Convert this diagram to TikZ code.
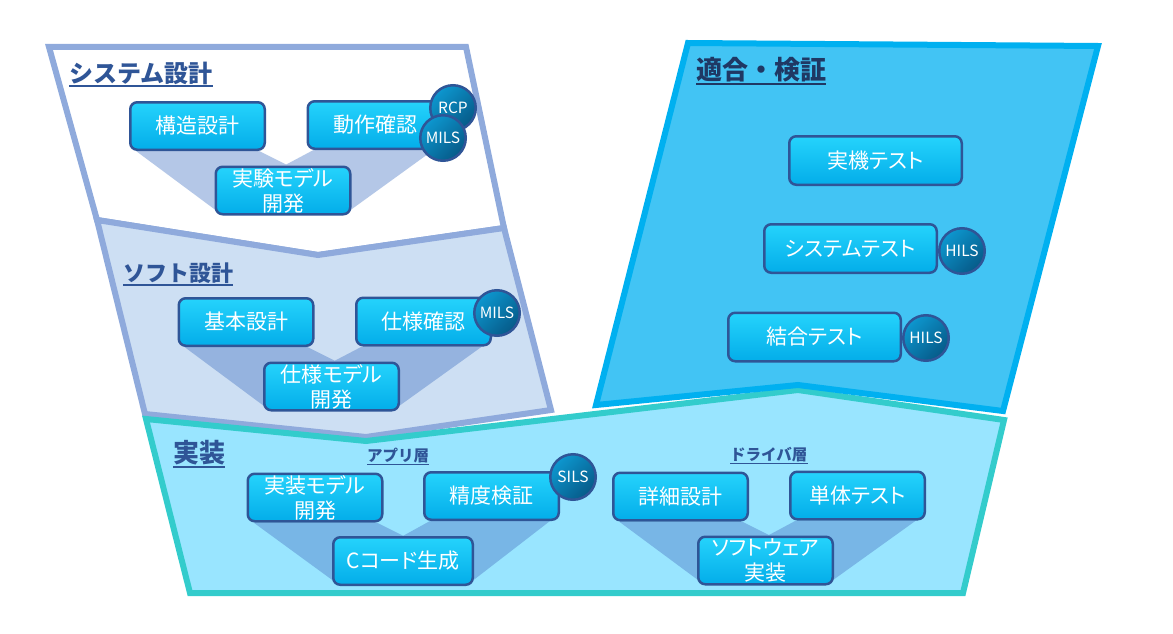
\documentclass[tikz,border=0pt]{standalone}
\usepackage{fontspec}
\usetikzlibrary{calc}
\newfontfamily\jp[RawFeature=+palt]{Noto Sans CJK JP}
\newfontfamily\jplab{Noto Sans CJK JP}
\definecolor{sysline}{HTML}{8FAADC}
\definecolor{softfill}{HTML}{CDDFF3}
\definecolor{sysshadow}{HTML}{B4C7E7}
\definecolor{softshadow}{HTML}{95B3DF}
\definecolor{implfill}{HTML}{99E5FF}
\definecolor{implline}{HTML}{33CCCC}
\definecolor{implshadow}{HTML}{78B6E6}
\definecolor{adfill}{HTML}{42C4F4}
\definecolor{adline}{HTML}{00B0F0}
\definecolor{boxtop}{HTML}{25D3FC}
\definecolor{boxbot}{HTML}{03ADE9}
\definecolor{boxline}{HTML}{2F5597}
\definecolor{circtop}{HTML}{0D97CF}
\definecolor{circbot}{HTML}{065A88}
\definecolor{labcol}{HTML}{2F5597}
\definecolor{labdark}{HTML}{1F3864}
\pgfdeclarelayer{back}
\pgfdeclarelayer{shade}
\pgfsetlayers{back,shade,main}
\newcommand{\shadowV}[4]{%
  \fill[#4] ($(#1.south west)+(7,0)$) -- ($(#1.south east)+(-7,0)$)
    -- ($(#1.south east)!0.5!(#2.south west)+(0,14)$)
    -- ($(#2.south west)+(7,0)$) -- ($(#2.south east)+(-10,0)$)
    -- ($(#3.south east)+(-3,-4)$) -- ($(#3.south west)+(3,-4)$) -- cycle;}
\begin{document}
\begin{tikzpicture}[x=1pt,y=-1pt,
  area/.style={line width=6pt, line join=miter},
  box/.style={draw=boxline, line width=2.5pt, rounded corners=7pt,
    top color=boxtop, bottom color=boxbot, text=white,
    font=\jp\fontsize{21}{25}\selectfont, align=center,
    minimum width=134.5pt, minimum height=47.5pt, inner sep=0pt},
  wbox/.style={box, minimum width=172.5pt, minimum height=48.5pt},
  badge/.style={circle, draw=boxline, line width=2.5pt, minimum size=45.5pt,
    inner sep=0pt, top color=circtop, bottom color=circbot, shading angle=45,
    text=white, font=\jp\fontsize{15.5}{15.5}\selectfont},
  lab/.style={text=labcol, inner sep=0pt, anchor=west},
  uline/.style={draw=labcol, line width=1.3pt},
]
\useasboundingbox (0,0) rectangle (1173,634);

\begin{pgfonlayer}{back}
% system design
\draw[area, draw=sysline, fill=white] (49,47) -- (466,47) -- (504,228) -- (318,255) -- (97,220) -- cycle;
% software design
\draw[area, draw=sysline, fill=softfill] (97,220) -- (318,255) -- (504,228) -- (551,410) -- (366,437) -- (145,414) -- cycle;
% implementation
\draw[area, draw=implline, fill=implfill] (146,419) -- (366,441) -- (798,390) -- (1004,420) -- (963,593) -- (190,593) -- cycle;
% adaptation / verification
\draw[area, draw=adline, fill=adfill] (688,43) -- (1098,46) -- (1003,411) -- (798,385) -- (596,405) -- cycle;
\end{pgfonlayer}

% section labels
\node[lab, font=\jplab\bfseries\fontsize{24}{24}\selectfont] (lsys) at (69,73) {システム設計};
\draw[uline] ([yshift=-1.5pt]lsys.south west) -- ([yshift=-1.5pt]lsys.south east);
\node[lab, font=\jplab\bfseries\fontsize{22}{22}\selectfont] (lsoft) at (123,273) {ソフト設計};
\draw[uline] ([yshift=-1.5pt]lsoft.south west) -- ([yshift=-1.5pt]lsoft.south east);
\node[lab, font=\jplab\bfseries\fontsize{26}{26}\selectfont] (limpl) at (173,453) {実装};
\draw[uline] ([yshift=-1.5pt]limpl.south west) -- ([yshift=-1.5pt]limpl.south east);
\node[lab, font=\jplab\bfseries\fontsize{15.5}{15.5}\selectfont] (lapp) at (367,456) {アプリ層};
\draw[uline] ([yshift=-1pt]lapp.south west) -- ([yshift=-1pt]lapp.south east);
\node[lab, font=\jplab\bfseries\fontsize{15.5}{15.5}\selectfont] (ldrv) at (730,455) {ドライバ層};
\draw[uline] ([yshift=-1pt]ldrv.south west) -- ([yshift=-1pt]ldrv.south east);
\node[lab, text=labdark, font=\jplab\bfseries\fontsize{26}{26}\selectfont] (lad) at (696,70) {適合・検証};
\draw[uline, draw=labdark] ([yshift=-1.5pt]lad.south west) -- ([yshift=-1.5pt]lad.south east);

% system design boxes
\node[box] (kozo) at (197.5,126) {構造設計};
\node[box] (dosa) at (375,125) {動作確認};
\node[badge] (rcp) at (453,108) {RCP};
\node[badge] (mils1) at (443,138) {MILS};
\node[box] (jikken) at (283,190.5) {実験モデル\\開発};

% software design boxes
\node[box] (kihon) at (246,322) {基本設計};
\node[box] (shiyo) at (423.5,321.5) {仕様確認};
\node[badge] (mils2) at (497,313) {MILS};
\node[box] (shiyomodel) at (331.5,386.5) {仕様モデル\\開発};

% implementation boxes
\node[box] (jissomodel) at (315,497.5) {実装モデル\\開発};
\node[box] (seido) at (491.5,496) {精度検証};
\node[badge] (sils) at (573,477) {SILS};
\node[box, minimum width=139.5pt] (ccode) at (403,561) {Cコード生成};
\node[box] (shosai) at (680.5,496.5) {詳細設計};
\node[box] (tantai) at (857.5,495.5) {単体テスト};
\node[box] (swimpl) at (765.5,560.5) {ソフトウェア\\実装};

% adaptation boxes
\node[wbox] (jikki) at (875.5,160.5) {実機テスト};
\node[wbox] (systest) at (850.5,248.5) {システムテスト};
\node[badge] (hils1) at (962,251) {HILS};
\node[wbox] (ketsugo) at (814.5,337) {結合テスト};
\node[badge] (hils2) at (926,338) {HILS};

% funnel shadows
\begin{pgfonlayer}{shade}
\shadowV{kozo}{dosa}{jikken}{sysshadow}
\shadowV{kihon}{shiyo}{shiyomodel}{softshadow}
\shadowV{jissomodel}{seido}{ccode}{implshadow}
\shadowV{shosai}{tantai}{swimpl}{implshadow}
\end{pgfonlayer}
\end{tikzpicture}
\end{document}
